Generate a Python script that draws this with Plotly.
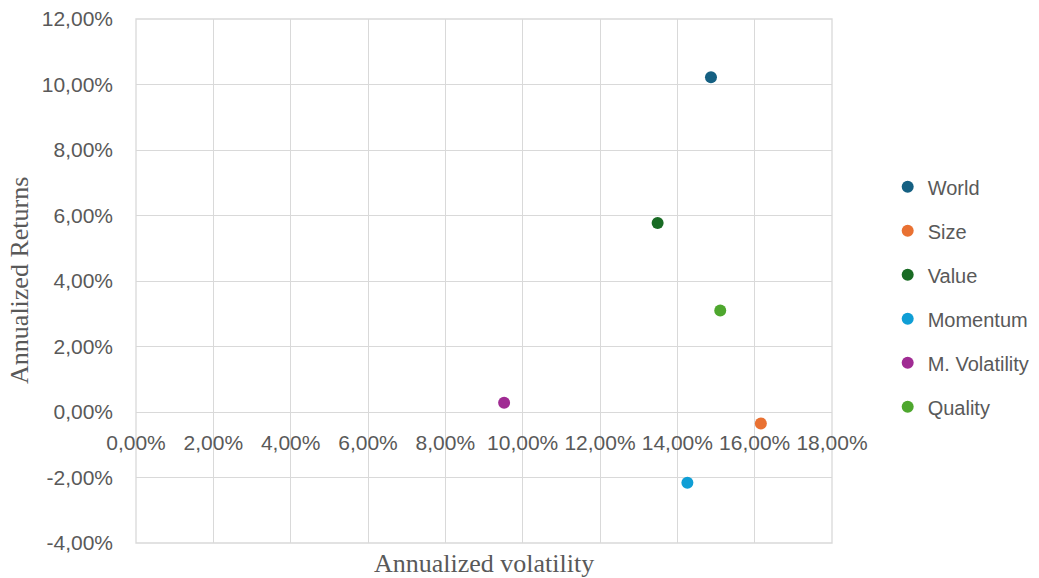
import plotly.graph_objects as go

series = ["World", "Size", "Value", "Momentum", "M. Volatility", "Quality"]
volatility = [14.87, 16.16, 13.49, 14.26, 9.52, 15.11]
returns = [10.22, -0.35, 5.77, -2.16, 0.28, 3.10]
colors = ["#156082", "#E97132", "#196B24", "#0F9ED5", "#A02B93", "#4EA72E"]

x_ticks = [0, 2, 4, 6, 8, 10, 12, 14, 16, 18]
x_tick_labels = ["0,00%", "2,00%", "4,00%", "6,00%", "8,00%", "10,00%",
                 "12,00%", "14,00%", "16,00%", "18,00%"]
y_ticks = [-4, -2, 0, 2, 4, 6, 8, 10, 12]
y_tick_labels = ["-4,00%", "-2,00%", "0,00%", "2,00%", "4,00%", "6,00%",
                 "8,00%", "10,00%", "12,00%"]

tick_font = dict(family="Liberation Sans, Arial, sans-serif", size=21, color="#595959")
grid = "#D9D9D9"

fig = go.Figure()
for name, vx, ry, col in zip(series, volatility, returns, colors):
    fig.add_trace(go.Scatter(
        x=[vx], y=[ry], mode="markers", name=name, legendgroup=name,
        marker=dict(size=12, color=col, line=dict(width=0)),
    ))

fig.update_layout(
    width=1039, height=578,
    margin=dict(l=136, r=207, t=19, b=35, autoexpand=False),
    paper_bgcolor="white", plot_bgcolor="white",
    showlegend=True,
    legend=dict(
        x=1.080, xanchor="left", y=0.717, yanchor="top",
        font=dict(family="Liberation Sans, Arial, sans-serif", size=20, color="#595959"),
        traceorder="grouped", tracegroupgap=15,
        bgcolor="rgba(0,0,0,0)", borderwidth=0,
    ),
    xaxis=dict(
        range=[0, 18], tickvals=x_ticks, ticktext=x_tick_labels,
        showgrid=True, gridcolor=grid, gridwidth=1.3,
        zeroline=False, showline=False, ticks="", automargin=False,
        anchor="free", position=0.25,
        tickfont=tick_font, ticklabelstandoff=16,
    ),
    yaxis=dict(
        range=[-4, 12], tickvals=y_ticks, ticktext=y_tick_labels,
        showgrid=True, gridcolor=grid, gridwidth=1.3,
        zeroline=False, showline=False, ticks="", automargin=False,
        tickfont=tick_font, ticklabelstandoff=22,
    ),
    shapes=[
        dict(type="rect", xref="paper", yref="paper", x0=0, x1=1, y0=0, y1=1,
             line=dict(color=grid, width=1.3), layer="below"),
    ],
    annotations=[
        dict(text="Annualized volatility", xref="paper", yref="paper",
             x=0.5, y=0, xanchor="center", yanchor="top", yshift=-4,
             showarrow=False,
             font=dict(family="Liberation Serif, Times New Roman, serif", size=26, color="#595959")),
        dict(text="Annualized Returns", xref="paper", yref="paper",
             x=-0.1667, y=0.502, xanchor="center", yanchor="middle", textangle=-90,
             showarrow=False,
             font=dict(family="Liberation Serif, Times New Roman, serif", size=26, color="#595959")),
    ],
)

fig.write_html("out.html")
